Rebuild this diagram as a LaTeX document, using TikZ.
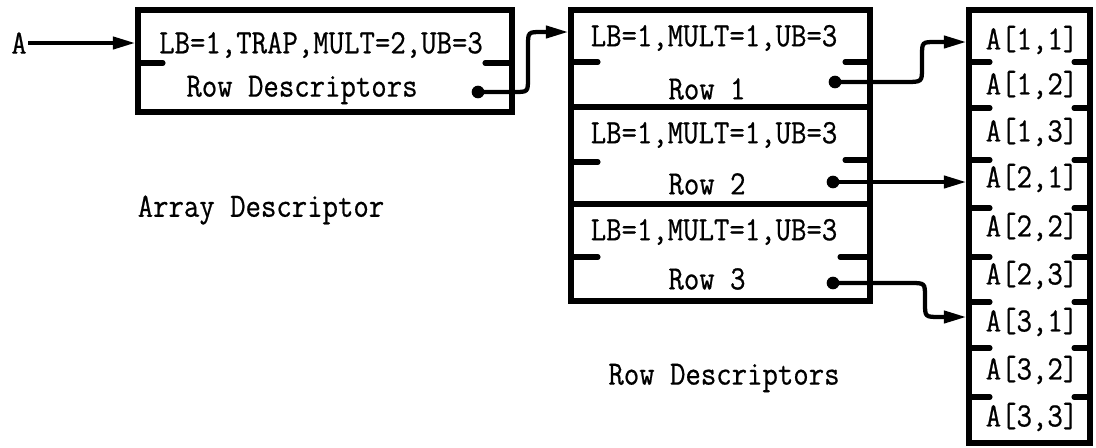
\documentclass[tikz,border=0pt]{standalone}
\usepackage{fontspec}
\setmonofont[FakeStretch=0.88,FakeBold=0.6]{Latin Modern Mono}
\usetikzlibrary{arrows.meta,fit}
\begin{document}
\begin{tikzpicture}[x=0.75pt,y=-0.75pt,
  bx/.style={draw,line width=3.8pt,inner sep=0pt,fit={#1}},
  tk/.style={line width=3.8pt,line cap=round},
  cn/.style={line width=3.2pt,-{Triangle[length=17pt,width=9pt]}},
  dt/.style={fill,circle,inner sep=0pt,minimum size=9.5pt},
  tx/.style={font=\fontsize{25.5}{28}\selectfont\ttfamily,inner sep=1pt}]
\path[use as bounding box] (0,0) rectangle (1096,447);

% Array descriptor
\node[bx={(138,10) (512,112)}] (ad) {};
\node[tx] (adt) at (321,45) {LB=1,TRAP,MULT=2,UB=3};
\node[tx] (adr) at (302,90) {Row Descriptors};
\draw[tk] (138,63) -- (163,63);
\draw[tk] (485,63) -- (512,63);
\node[dt] (d0) at (478,92) {};
\node[tx] (A) at (19,43) {A};
\node[tx] (adl) at (261,210) {Array Descriptor};

% Row descriptors
\node[bx={(571,10) (870,107)}] (r1) {};
\node[bx={(571,107) (870,204)}] (r2) {};
\node[bx={(571,204) (870,301)}] (r3) {};
\node[tx] (r1a) at (714,38) {LB=1,MULT=1,UB=3};
\node[tx] (r2a) at (714,135) {LB=1,MULT=1,UB=3};
\node[tx] (r3a) at (714,232) {LB=1,MULT=1,UB=3};
\node[tx] (r1b) at (707,89) {Row 1};
\node[tx] (r2b) at (707,184) {Row 2};
\node[tx] (r3b) at (707,279) {Row 3};
\draw[tk] (571,62) -- (598,62);
\draw[tk] (571,162) -- (598,162);
\draw[tk] (571,257) -- (598,257);
\draw[tk] (845,62) -- (870,62);
\draw[tk] (845,160) -- (870,160);
\draw[tk] (840,257) -- (870,257);
\node[dt] (d1) at (835,82) {};
\node[dt] (d2) at (833,182) {};
\node[dt] (d3) at (833,283) {};
\node[tx] (rdl) at (724,378) {Row Descriptors};

% Elements
\node[bx={(969,10) (1090,443)}] (el) {};
\foreach \t/\y [count=\i] in {A[1{,}1]/40,A[1{,}2]/85,A[1{,}3]/132,A[2{,}1]/178,A[2{,}2]/227,A[2{,}3]/275,A[3{,}1]/322,A[3{,}2]/370,A[3{,}3]/417}
  \node[tx] (e\i) at (1032,\y) {\t};
\foreach \y in {62,108,160,208,257,302,348,397}{
  \draw[tk] (969,\y) -- (990,\y);
  \draw[tk] (1074,\y) -- (1090,\y);
}

% Connectors
\draw[cn] (A.east) -- (ad.west |- A.east);
\draw[cn] (d0.center) -- (514,92) .. controls (528,92) .. (528,78) -- (528,46)
  .. controls (528,32) .. (542,32) -- (r1.west |- 0,32);
\draw[cn] (d1.center) -- (905,82) .. controls (922,82) .. (922,68) -- (922,56)
  .. controls (922,42) .. (936,42) -- (el.west |- 0,42);
\draw[cn] (d2.center) -- (el.west |- d2.center);
\draw[cn] (d3.center) -- (910,283) .. controls (925,283) .. (925,297) -- (925,303)
  .. controls (925,317) .. (940,317) -- (el.west |- 0,317);
\end{tikzpicture}
\end{document}
